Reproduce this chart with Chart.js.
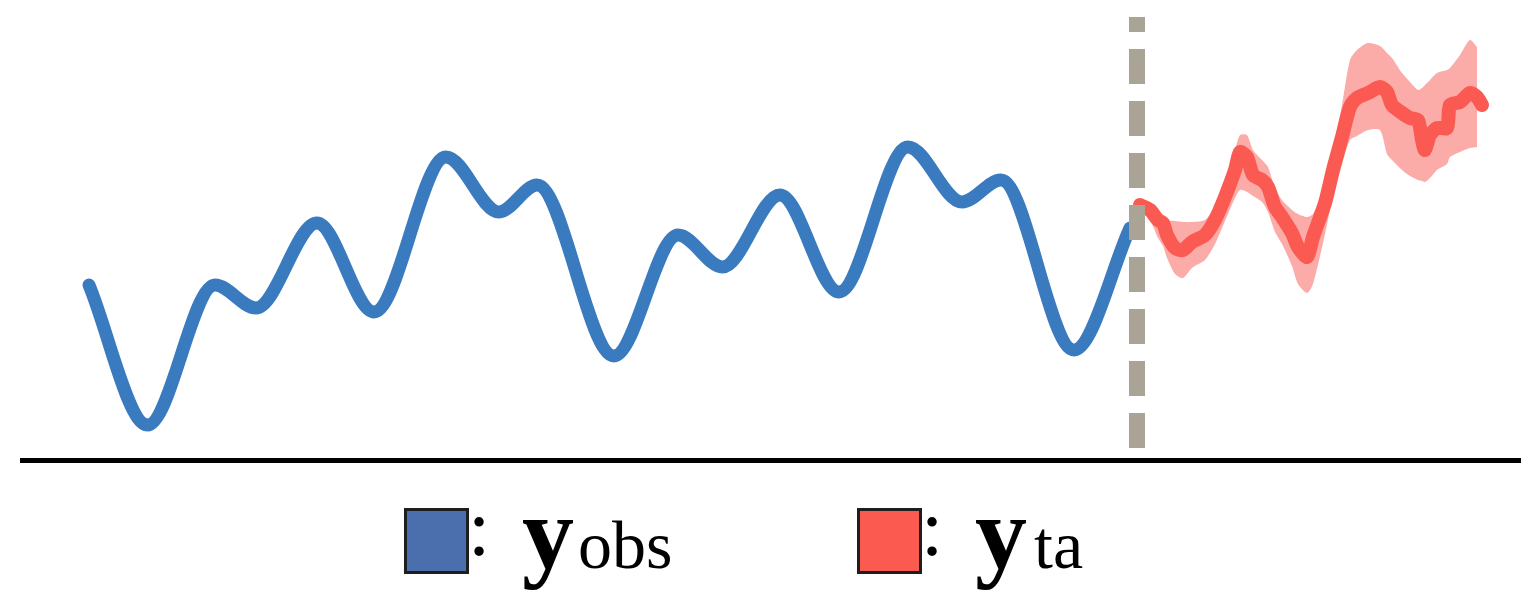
<!DOCTYPE html>
<html>
<head>
<meta charset="utf-8">
<script src="https://cdn.jsdelivr.net/npm/chart.js@4.4.1/dist/chart.umd.min.js"></script>
<style>
  html, body { margin: 0; padding: 0; background: #fff; }
  #wrap { position: relative; width: 1538px; height: 592px; overflow: hidden; }
  #plot { position: absolute; left: 0; top: 0; width: 1538px; height: 470px; }
  .box { position: absolute; top: 508px; width: 65px; height: 66px; box-sizing: border-box; border: 3px solid #1e1e1e; }
  .t { position: absolute; font-family: "Liberation Serif", "DejaVu Serif", serif; color: #000; white-space: nowrap; }
  .colon { font-size: 80px; line-height: 80px; top: 488px; }
  .ybig { font-size: 104px; line-height: 104px; top: 481px; font-weight: bold; }
  .sub { font-size: 68px; line-height: 68px; top: 511px; }
</style>
</head>
<body>
<div id="wrap">
  <div id="plot"><canvas id="myLineChart"></canvas></div>

  <div class="box" style="left:404px; background:#4a6fac;"></div>
  <span class="t colon" style="left:468px;">:</span>
  <span class="t ybig" style="left:522px;">y</span>
  <span class="t sub" style="left:578px;">obs</span>

  <div class="box" style="left:857px; background:#fb5a50;"></div>
  <span class="t colon" style="left:921px;">:</span>
  <span class="t ybig" style="left:975px;">y</span>
  <span class="t sub" style="left:1034px;">ta</span>
</div>

<script>
// observed series (time step, value)
const obsT = [6.7, 12.55, 19.3, 23.4, 29.5, 35.2, 42.4, 47.7, 51.5, 59.2, 65.6, 70.05, 75.8, 81.7, 88.6, 94.0, 97.9, 105.2, 110.8];
const obsY = [17.5, 3.5, 17.5, 15.2, 23.7, 14.8, 30.3, 24.8, 27.5, 10.4, 22.5, 19.3, 26.5, 16.8, 31.3, 25.8, 28.0, 11.0, 23.2];

// target forecast: mean and band
const taT = [111.8, 112.8, 113.6, 114.1, 114.5, 115.3, 116.1, 117.0, 118.3, 119.3, 120.3, 121.3, 121.8, 122.5, 123.1,
  124.0, 124.6, 125.3, 126.0, 127.0, 127.6, 128.5, 129.1, 130.3, 131.1, 132.0, 132.8, 133.5, 134.6, 135.8,
  136.5, 137.0, 138.0, 138.8, 139.6, 140.0, 140.3, 140.8, 141.5, 142.5, 142.8, 143.8, 144.8, 145.5, 146.0];
const taMean = [25.5, 25.0, 24.0, 23.7, 22.5, 21.2, 21.0, 21.8, 22.5, 24.0, 26.3, 29.0, 30.8, 30.3, 28.5,
  28.0, 27.3, 25.3, 24.3, 22.7, 21.3, 20.3, 22.3, 25.7, 29.0, 32.3, 35.3, 36.2, 36.7, 37.3,
  36.8, 35.5, 34.7, 34.2, 34.0, 32.0, 31.0, 32.5, 33.2, 33.2, 35.5, 35.8, 36.7, 36.3, 35.5];
const taUpper = [26.0, 25.6, 24.8, 24.4, 24.0, 23.9, 23.8, 23.8, 24.0, 25.4, 28.0, 31.0, 32.5, 32.5, 31.0,
  30.0, 29.3, 27.2, 26.0, 25.0, 24.6, 24.3, 24.6, 27.3, 31.0, 35.5, 40.0, 41.0, 41.7, 41.4,
  40.7, 40.2, 38.7, 37.8, 37.0, 37.2, 37.5, 38.0, 38.7, 39.0, 39.2, 40.5, 42.0, 41.3, null];
const taLower = [25.0, 24.0, 22.2, 21.4, 20.2, 18.6, 18.2, 19.2, 20.0, 21.6, 23.9, 26.2, 27.0, 26.8, 26.4,
  25.8, 24.8, 22.8, 21.6, 19.4, 17.6, 16.7, 17.6, 22.6, 26.4, 29.6, 32.0, 32.4, 33.0, 33.0,
  30.6, 30.0, 29.0, 28.4, 28.0, 27.9, 27.8, 28.2, 29.0, 29.6, 30.3, 30.8, 31.2, 31.3, null];

// split between observed and target, and the axis range
const splitT = 111.5;
const splitSpan = [1.2, 44.3];
const xRange = [0, 149.8];
const yRange = [0, 46];

const pts = (xs, ys) => xs.map((x, i) => ({ x: x, y: ys[i] }));

const ctx = document.getElementById('myLineChart').getContext('2d');
new Chart(ctx, {
    type: 'line',
    data: {
        datasets: [
            {
                label: 'split',
                data: splitSpan.map(v => ({ x: splitT, y: v })),
                borderColor: '#aaa497',
                borderWidth: 16,
                borderDash: [35, 17],
                borderCapStyle: 'butt',
                pointRadius: 0,
                order: 0
            },
            {
                label: 'y_ta',
                data: pts(taT, taMean),
                borderColor: '#fa5a52',
                borderWidth: 14,
                borderCapStyle: 'round',
                borderJoinStyle: 'round',
                tension: 0.25,
                pointRadius: 0,
                order: 1
            },
            {
                label: 'y_obs',
                data: pts(obsT, obsY),
                borderColor: '#3a7bc0',
                borderWidth: 13,
                borderCapStyle: 'round',
                borderJoinStyle: 'round',
                cubicInterpolationMode: 'monotone',
                pointRadius: 0,
                order: 2
            },
            {
                label: 'upper',
                data: pts(taT, taUpper),
                borderWidth: 0,
                pointRadius: 0,
                tension: 0.25,
                backgroundColor: 'rgba(250, 90, 82, 0.5)',
                fill: 4,
                order: 3
            },
            {
                label: 'lower',
                data: pts(taT, taLower),
                borderWidth: 0,
                pointRadius: 0,
                tension: 0.25,
                fill: false,
                order: 4
            }
        ]
    },
    options: {
        responsive: true,
        maintainAspectRatio: false,
        animation: false,
        layout: { padding: { left: 22, right: 18, top: 0, bottom: 10 } },
        plugins: { legend: { display: false }, tooltip: { enabled: false } },
        scales: {
            x: {
                type: 'linear',
                min: xRange[0],
                max: xRange[1],
                grid: { display: false, drawTicks: false },
                ticks: { display: false },
                border: { display: true, color: '#000', width: 5 }
            },
            y: {
                min: yRange[0],
                max: yRange[1],
                display: false
            }
        }
    }
});
</script>
</body>
</html>
